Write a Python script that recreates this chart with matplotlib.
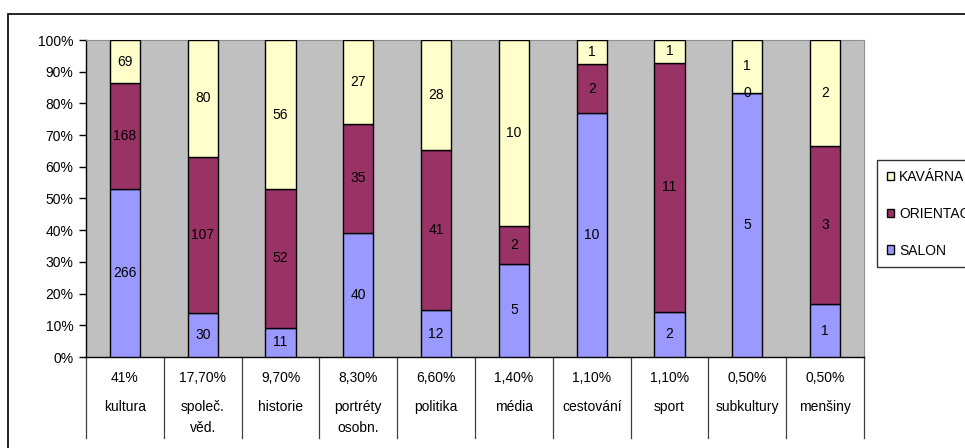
import matplotlib
matplotlib.use("Agg")
import matplotlib.pyplot as plt
import numpy as np
from matplotlib.patches import Rectangle
from matplotlib.ticker import PercentFormatter

plt.rcParams['font.family'] = ['Liberation Sans', 'DejaVu Sans']
plt.rcParams['font.size'] = 10

shares = ["41%", "17,70%", "9,70%", "8,30%", "6,60%", "1,40%", "1,10%", "1,10%", "0,50%", "0,50%"]
categories = ["kultura", "společ.\nvěd.", "historie", "portréty\nosobn.", "politika",
              "média", "cestování", "sport", "subkultury", "menšiny"]
salon = [266, 30, 11, 40, 12, 5, 10, 2, 5, 1]
orientace = [168, 107, 52, 35, 41, 2, 2, 11, 0, 3]
kavarna = [69, 80, 56, 27, 28, 10, 1, 1, 1, 2]

series_names = ["SALON", "ORIENTACE", "KAVÁRNA"]
colors = ["#9999FF", "#993366", "#FFFFCC"]

W, H = 965, 448
fig = plt.figure(figsize=(W / 100, H / 100), dpi=100)

# outer chart border
fig.patches.append(Rectangle((8 / W, -0.05), 1.1, 1 - 14 / H + 0.05, transform=fig.transFigure,
                             fill=False, edgecolor='black', linewidth=1.2, zorder=0))

ax = fig.add_axes([86 / W, 1 - 357 / H, 778 / W, 317 / H])
ax.set_facecolor("#C0C0C0")

data = np.array([salon, orientace, kavarna], dtype=float)
totals = data.sum(axis=0)
frac = data / totals
x = np.arange(len(categories))
bottom = np.zeros(len(categories))
handles = []
for i in range(3):
    bars = ax.bar(x, frac[i], 0.39, bottom=bottom, color=colors[i], edgecolor='black',
                  linewidth=1.0, label=series_names[i], zorder=3)
    txts = ax.bar_label(bars, labels=[str(int(v)) for v in data[i]], label_type='center',
                        fontsize=10, color='black')
    for t in txts:
        t.set_zorder(10)
    bottom += frac[i]
    handles.append(bars)

ax.set_xlim(-0.5, len(categories) - 0.5)
ax.set_ylim(0, 1)
ax.set_yticks(np.arange(0, 1.01, 0.1))
ax.yaxis.set_major_formatter(PercentFormatter(1.0, decimals=0))
ax.tick_params(axis='y', direction='out', length=5, width=1, labelsize=10, pad=4)
ax.set_xticks([])
for s in ['top', 'right']:
    ax.spines[s].set_color('#909090')
    ax.spines[s].set_linewidth(0.8)
for s in ['left', 'bottom']:
    ax.spines[s].set_color('black')
    ax.spines[s].set_linewidth(1.0)

# category table below
trans = ax.get_xaxis_transform()
depth = (438 - 357) / 317
for i in range(len(categories) + 1):
    ax.plot([i - 0.5, i - 0.5], [0, -depth], transform=trans, color='#404040',
            linewidth=0.9, clip_on=False)
y1 = -(378 - 357) / 317
y2 = -(407 - 357) / 317
y3 = -(428 - 357) / 317
for i, (s, c) in enumerate(zip(shares, categories)):
    ax.text(i, y1, s, transform=trans, ha='center', va='center', fontsize=10)
    lines = c.split("\n")
    ax.text(i, y2, lines[0], transform=trans, ha='center', va='center', fontsize=10)
    if len(lines) > 1:
        ax.text(i, y3, lines[1], transform=trans, ha='center', va='center', fontsize=10)

leg = fig.legend(handles[::-1], series_names[::-1], loc='upper left',
                 bbox_to_anchor=(877 / W, 1 - 160 / H), borderaxespad=0,
                 frameon=True, fancybox=False, edgecolor='black', fontsize=10,
                 handlelength=0.55, handleheight=0.55, handletextpad=0.35,
                 labelspacing=1.65, borderpad=0.7)
leg.get_frame().set_linewidth(1.0)

fig.savefig("out.png", dpi=100)
